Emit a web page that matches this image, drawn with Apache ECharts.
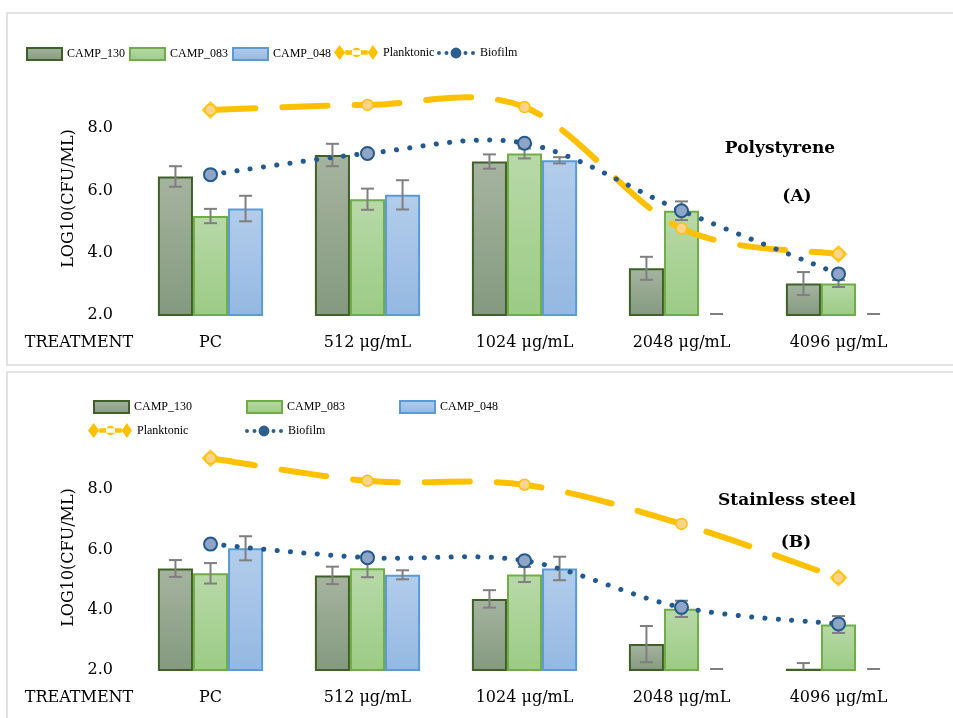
<!DOCTYPE html>
<html>
<head>
<meta charset="utf-8">
<script src="https://cdn.jsdelivr.net/npm/echarts@6/dist/echarts.min.js"></script>
<style>html,body{margin:0;padding:0;background:#fff;}#c{width:953px;height:718px;}</style>
</head>
<body>
<div id="c"></div>
<script>
// ---------- data ----------
const categories = ['PC', '512 μg/mL', '1024 μg/mL', '2048 μg/mL', '4096 μg/mL'];
const yTicks = [2, 4, 6, 8];

// Panel A – Polystyrene
const camp130A = [6.45, 7.14, 6.93, 3.50, 3.01];
const camp130AErr = [0.33, 0.36, 0.23, 0.37, 0.37];
const camp083A = [5.18, 5.72, 7.19, 5.35, 3.01];
const camp083AErr = [0.23, 0.34, 0.16, 0.30, 0.11];
const camp048A = [5.42, 5.86, 6.97, 0, 0];
const camp048AErr = [0.41, 0.47, 0.10, 0, 0];
const planktonicA = [8.59, 8.75, 8.68, 4.78, 3.96];
const biofilmA = [6.51, 7.19, 7.52, 5.35, 3.32];

// Panel B – Stainless steel
const camp130B = [5.37, 5.14, 4.36, 2.86, 2.04];
const camp130BErr = [0.28, 0.29, 0.29, 0.60, 0.19];
const camp083B = [5.21, 5.38, 5.17, 4.03, 3.51];
const camp083BErr = [0.34, 0.30, 0.25, 0.27, 0.28];
const camp048B = [6.04, 5.16, 5.37, 0, 0];
const camp048BErr = [0.40, 0.15, 0.39, 0, 0];
const planktonicB = [9.03, 8.28, 8.15, 6.85, 5.06];
const biofilmB = [6.18, 5.73, 5.63, 4.08, 3.53];

// ---------- styles ----------
const AX_FONT = "'DejaVu Serif', serif";
const LEG_FONT = "'Liberation Serif', serif";
const Y_MIN = 2, Y_MAX = 10, CAT_GAP = 0.33;

function grad(top, bottom) {
  return new echarts.graphic.LinearGradient(0, 0, 0, 1, [{offset: 0, color: top}, {offset: 1, color: bottom}]);
}
const barStyles = {
  'CAMP_130': {color: grad('#A6B49F', '#849980'), borderColor: '#3F6128', borderWidth: 2},
  'CAMP_083': {color: grad('#B8D9A8', '#9BCB85'), borderColor: '#70AD47', borderWidth: 2},
  'CAMP_048': {color: grad('#B3CDEB', '#94B8E2'), borderColor: '#5B9BD5', borderWidth: 2}
};

function errRender(params, api) {
  const cat = api.value(0), v = api.value(1), e = api.value(2), k = api.value(3);
  const band = api.size([1, 0])[0];
  const bw = band * (1 - CAT_GAP) / 3;
  const x = api.coord([cat, Y_MIN])[0] + (k - 1) * bw;
  const yBase = api.coord([cat, Y_MIN])[1];
  const half = 6.5;
  const st = {stroke: '#7F7F7F', lineWidth: 2};
  if (v <= Y_MIN) {
    return {type: 'line', shape: {x1: x - half, y1: yBase - 1, x2: x + half, y2: yBase - 1}, style: st};
  }
  const yTop = api.coord([cat, v + e])[1];
  const yLowRaw = api.coord([cat, v - e])[1];
  const yLow = Math.min(yLowRaw, yBase);
  const children = [
    {type: 'line', shape: {x1: x, y1: yTop, x2: x, y2: yLow}, style: st},
    {type: 'line', shape: {x1: x - half, y1: yTop, x2: x + half, y2: yTop}, style: st}
  ];
  if (yLowRaw <= yBase) children.push({type: 'line', shape: {x1: x - half, y1: yLow, x2: x + half, y2: yLow}, style: st});
  return {type: 'group', children: children};
}

// Excel-like smoothed curve (Catmull-Rom -> cubic Bezier), positioned via the axes
function curveRender(values, style) {
  return function (params, api) {
    if (params.dataIndex !== 0) return;
    const pts = values.map(function (v, i) { return api.coord([i, v]); });
    let d = 'M' + pts[0][0] + ',' + pts[0][1];
    for (let i = 0; i < pts.length - 1; i++) {
      const p0 = pts[i - 1] || pts[i], p1 = pts[i], p2 = pts[i + 1], p3 = pts[i + 2] || pts[i + 1];
      const c1x = p1[0] + (p2[0] - p0[0]) / 6, c1y = p1[1] + (p2[1] - p0[1]) / 6;
      const c2x = p2[0] - (p3[0] - p1[0]) / 6, c2y = p2[1] - (p3[1] - p1[1]) / 6;
      d += ' C' + c1x + ',' + c1y + ' ' + c2x + ',' + c2y + ' ' + p2[0] + ',' + p2[1];
    }
    return {type: 'path', shape: {pathData: d}, style: Object.assign({fill: null}, style), silent: true};
  };
}

function panelSeries(idx, c130, e130, c083, e083, c048, e048, plank, bio) {
  const bars = [['CAMP_130', c130], ['CAMP_083', c083], ['CAMP_048', c048]].map(function (p) {
    return {
      name: p[0], type: 'bar', xAxisIndex: idx, yAxisIndex: idx, data: p[1],
      barGap: '0%', barCategoryGap: (CAT_GAP * 100) + '%',
      itemStyle: barStyles[p[0]], z: 2
    };
  });
  const errData = [];
  [[c130, e130], [c083, e083], [c048, e048]].forEach(function (p, k) {
    p[0].forEach(function (v, i) { errData.push([i, v, p[1][i], k]); });
  });
  const n = plank.length;
  return bars.concat([
    {
      name: 'err' + idx, type: 'custom', xAxisIndex: idx, yAxisIndex: idx,
      renderItem: errRender, data: errData, encode: {x: 0, y: 1}, z: 3, silent: true
    },
    {
      name: 'Planktonic', type: 'line', xAxisIndex: idx, yAxisIndex: idx, data: plank,
      symbol: 'circle', symbolSize: 11, showAllSymbol: true,
      lineStyle: {opacity: 0, width: 0},
      itemStyle: {color: '#FFD38A', borderColor: '#FFC000', borderWidth: 1.5}, z: 6
    },
    {
      name: 'Planktonic', type: 'custom', xAxisIndex: idx, yAxisIndex: idx,
      data: plank.map(function (v, i) { return [i, v]; }), encode: {x: 0, y: 1},
      renderItem: curveRender(plank, {stroke: '#FFC000', lineWidth: 6, lineDash: [45, 27], lineCap: 'round'}),
      z: 4, silent: true
    },
    {
      name: 'Planktonic', type: 'scatter', xAxisIndex: idx, yAxisIndex: idx,
      data: plank.map(function (v, i) { return (i === 0 || i === n - 1) ? v : '-'; }),
      symbol: 'diamond', symbolSize: [18, 18], itemStyle: {color: '#FFC000'}, z: 5, silent: true
    },
    {
      name: 'Biofilm', type: 'custom', xAxisIndex: idx, yAxisIndex: idx,
      data: bio.map(function (v, i) { return [i, v]; }), encode: {x: 0, y: 1},
      renderItem: curveRender(bio, {stroke: '#22598E', lineWidth: 5, lineDash: [0.1, 13.3], lineCap: 'round'}),
      z: 7, silent: true
    },
    {
      name: 'Biofilm', type: 'line', xAxisIndex: idx, yAxisIndex: idx, data: bio,
      symbol: 'circle', symbolSize: 13, showAllSymbol: true,
      lineStyle: {opacity: 0, width: 0},
      itemStyle: {color: '#8EA5C6', borderColor: '#25598C', borderWidth: 2}, z: 8
    }
  ]);
}

function circ(cx, cy, r) {
  return 'M' + (cx - r) + ',' + cy + ' A' + r + ',' + r + ' 0 1,0 ' + (cx + r) + ',' + cy +
    ' A' + r + ',' + r + ' 0 1,0 ' + (cx - r) + ',' + cy + ' Z ';
}
const PLANK_ICON = 'path://M0,8 L6,0 L12,8 L6,16 Z M12,5.5 H36 V10.5 H12 Z ' + circ(24, 8, 5) + 'M36,8 L41.5,0 L47,8 L41.5,16 Z';
const BIO_ICON = 'path://' + circ(2.2, 6, 2.2) + circ(10.5, 6, 2.2) + circ(21, 6, 6) + circ(31.5, 6, 2.2) + circ(39.8, 6, 2.2);

function leg(name, left, cy, kind) {
  const base = {
    left: left, padding: 0, itemGap: 0,
    textStyle: {fontFamily: LEG_FONT, fontSize: 12, color: '#000'},
    selectedMode: false
  };
  if (kind === 'bar') {
    return Object.assign(base, {top: cy - 6, itemWidth: 35, itemHeight: 12, data: [{name: name, icon: 'rect'}]});
  }
  if (kind === 'plank') {
    return Object.assign(base, {top: cy - 8, itemWidth: 44, itemHeight: 16,
      data: [{name: name, icon: PLANK_ICON, itemStyle: {color: '#FFC000', borderWidth: 0}}]});
  }
  return Object.assign(base, {top: cy - 6, itemWidth: 38, itemHeight: 12,
    data: [{name: name, icon: BIO_ICON, itemStyle: {color: '#2E5E8E', borderWidth: 0}}]});
}

function xAx(idx) {
  return {
    type: 'category', gridIndex: idx, data: categories,
    axisLine: {show: false}, axisTick: {show: false},
    axisLabel: {fontFamily: AX_FONT, fontSize: 16, color: '#000', margin: 20}
  };
}
function yAx(idx) {
  return {
    type: 'value', gridIndex: idx, min: Y_MIN, max: Y_MAX, interval: 2,
    splitLine: {show: false}, axisLine: {show: false}, axisTick: {show: false},
    axisLabel: {
      fontFamily: AX_FONT, fontSize: 16, color: '#000', margin: 19, showMaxLabel: false,
      formatter: function (v) { return yTicks.indexOf(v) >= 0 ? v.toFixed(1) : ''; }
    },
    name: 'LOG10(CFU/ML)', nameLocation: 'middle', nameGap: 47, nameRotate: 90,
    nameTextStyle: {fontFamily: AX_FONT, fontSize: 16, color: '#000', padding: [0, 16, 0, 0]}
  };
}

function txt(s, x, y, bold, size) {
  return {
    type: 'text', x: x, y: y, silent: true,
    style: {text: s, fontFamily: AX_FONT, fontSize: size, fontWeight: bold ? 'bold' : 'normal',
      fill: '#000', align: 'center', verticalAlign: 'middle'}
  };
}

const chart = echarts.init(document.getElementById('c'), null, {renderer: 'canvas'});
chart.setOption({
  backgroundColor: '#fff',
  animation: false,
  grid: [
    {left: 132, right: 36, top: 66, bottom: 403},
    {left: 132, right: 36, top: 429, bottom: 48}
  ],
  xAxis: [xAx(0), xAx(1)],
  yAxis: [yAx(0), yAx(1)],
  legend: [
    leg('CAMP_130', 26, 53, 'bar'),
    leg('CAMP_083', 129, 53, 'bar'),
    leg('CAMP_048', 232, 53, 'bar'),
    leg('Planktonic', 334, 53, 'plank'),
    leg('Biofilm', 437, 53, 'bio'),
    leg('CAMP_130', 93, 406, 'bar'),
    leg('CAMP_083', 246, 406, 'bar'),
    leg('CAMP_048', 399, 406, 'bar'),
    leg('Planktonic', 88, 431, 'plank'),
    leg('Biofilm', 245, 431, 'bio')
  ],
  graphic: [
    {type: 'rect', shape: {x: 7, y: 13, width: 970, height: 352}, style: {fill: 'none', stroke: '#D9D9D9', lineWidth: 1.5}, silent: true},
    {type: 'rect', shape: {x: 7, y: 372, width: 970, height: 360}, style: {fill: 'none', stroke: '#D9D9D9', lineWidth: 1.5}, silent: true},
    txt('TREATMENT', 79, 343, false, 16),
    txt('TREATMENT', 79, 698, false, 16),
    txt('Polystyrene', 780, 149, true, 17),
    txt('(A)', 797, 197, true, 17),
    txt('Stainless steel', 787, 501, true, 17),
    txt('(B)', 796, 543, true, 17)
  ],
  series: panelSeries(0, camp130A, camp130AErr, camp083A, camp083AErr, camp048A, camp048AErr, planktonicA, biofilmA)
    .concat(panelSeries(1, camp130B, camp130BErr, camp083B, camp083BErr, camp048B, camp048BErr, planktonicB, biofilmB))
});
</script>
</body>
</html>
